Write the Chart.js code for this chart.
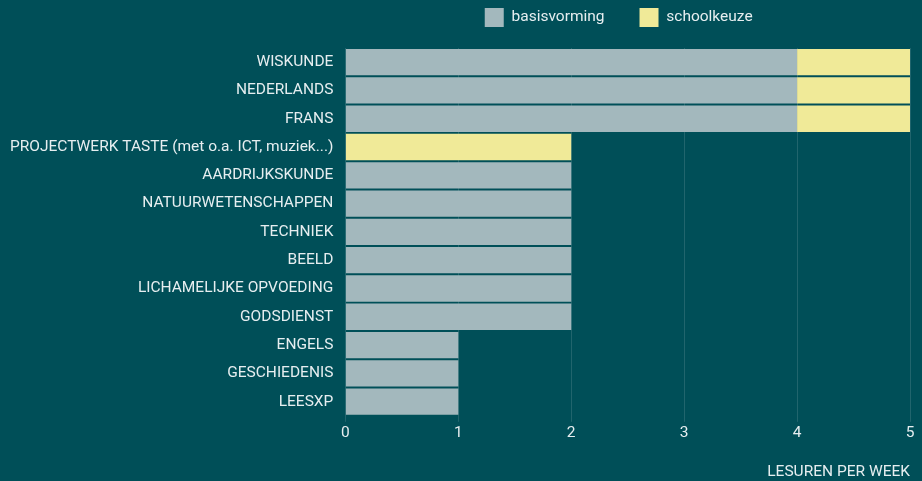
<!DOCTYPE html>
<html>
<head>
<meta charset="utf-8">
<script src="https://cdn.jsdelivr.net/npm/chart.js@4/dist/chart.umd.min.js"></script>
<style>
  html, body { margin: 0; padding: 0; background: #004f58; }
  #wrap { width: 922px; height: 481px; }
</style>
</head>
<body>
<div id="wrap"><canvas id="chart"></canvas></div>
<script>
const vakken = ['WISKUNDE', 'NEDERLANDS', 'FRANS', 'PROJECTWERK TASTE (met o.a. ICT, muziek...)',
    'AARDRIJKSKUNDE', 'NATUURWETENSCHAPPEN', 'TECHNIEK', 'BEELD', 'LICHAMELIJKE OPVOEDING',
    'GODSDIENST', 'ENGELS', 'GESCHIEDENIS', 'LEESXP'];
const basisvorming = [4, 4, 4, 0, 2, 2, 2, 2, 2, 2, 1, 1, 1];
const schoolkeuze = [1, 1, 1, 2, 0, 0, 0, 0, 0, 0, 0, 0, 0];
const xTicks = [0, 1, 2, 3, 4, 5];

const TEXT = '#e6eef0';
const FONT = 'Roboto, "Noto Sans", sans-serif';
const FS = 15.5;
const LEGEND_PAD = 35;   // ruimte tussen de legende-items
const LEGEND_H = 48;     // hoogte van de legendestrook
const LEGEND_Y = 8;      // bovenkant van de legendeblokjes
const LEGEND_DX = -9;    // kleine verschuiving naar links

// legende: vaste hoogte, boven het plotgebied gecentreerd
const legendOverArea = {
    id: 'legendOverArea',
    beforeLayout(chart) {
        const lg = chart.legend;
        if (!lg || lg._patched) return;
        const fit = lg.fit;
        lg.fit = function () {
            fit.call(this);
            this.height = LEGEND_H;
        };
        lg._patched = true;
    },
    afterLayout(chart) {
        const lg = chart.legend;
        if (!lg) return;
        lg.left = chart.chartArea.left + LEGEND_DX;
        lg.right = chart.chartArea.right + LEGEND_DX;
        lg.top = LEGEND_Y - LEGEND_PAD;
        lg.adjustHitBoxes();
    }
};

new Chart(document.getElementById('chart'), {
    type: 'bar',
    data: {
        labels: vakken,
        datasets: [
            { label: 'basisvorming', data: basisvorming, backgroundColor: '#a3b8bd' },
            { label: 'schoolkeuze', data: schoolkeuze, backgroundColor: '#f0ea98' },
        ],
    },
    plugins: [legendOverArea],
    options: {
        indexAxis: 'y',
        responsive: true,
        maintainAspectRatio: false,
        animation: false,
        barPercentage: 0.93,
        categoryPercentage: 1,
        layout: { padding: { left: 6, right: 12, top: 0, bottom: 0 } },
        plugins: {
            legend: {
                position: 'top',
                labels: {
                    color: TEXT,
                    boxWidth: 19,
                    boxHeight: 19,
                    padding: LEGEND_PAD,
                    font: { family: FONT, size: FS },
                },
            },
            tooltip: { enabled: false },
        },
        scales: {
            x: {
                stacked: true,
                min: 0,
                max: 5,
                afterBuildTicks: (s) => { s.ticks = xTicks.map(v => ({ value: v })); },
                grid: { color: 'rgba(255,255,255,0.13)', drawTicks: true, tickLength: 6 },
                border: { display: false },
                ticks: { color: TEXT, font: { family: FONT, size: FS }, padding: 2 },
                title: {
                    display: true,
                    text: 'LESUREN PER WEEK',
                    align: 'end',
                    color: TEXT,
                    font: { family: FONT, size: FS },
                    padding: { top: 18, bottom: 0 },
                },
            },
            y: {
                stacked: true,
                grid: { display: false },
                border: { display: false },
                ticks: { color: TEXT, font: { family: FONT, size: FS }, padding: 4, autoSkip: false },
            },
        },
    },
});
</script>
</body>
</html>
